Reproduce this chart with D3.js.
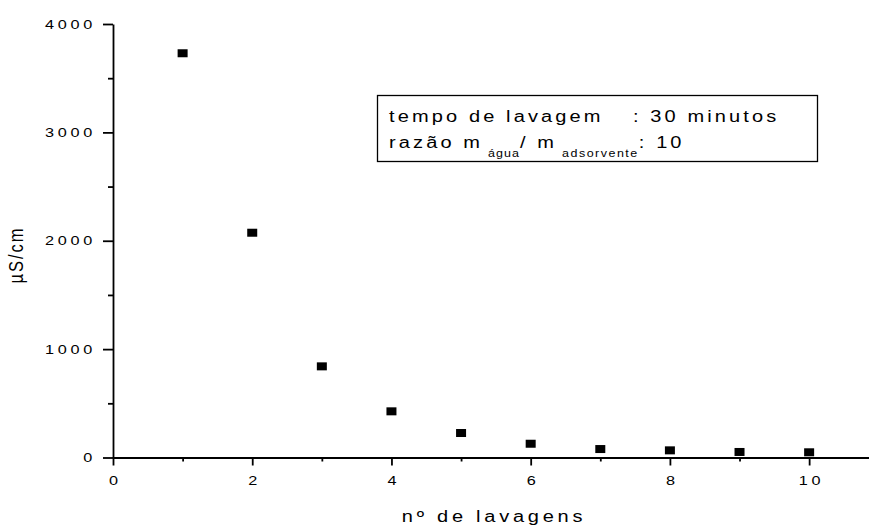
<!DOCTYPE html>
<html>
<head>
<meta charset="utf-8">
<script src="https://cdn.jsdelivr.net/npm/d3@7"></script>
<style>
	html, body { margin: 0; padding: 0; background: #fff; }
	svg { display: block; font-family: "Liberation Sans", Arial, sans-serif; }
	.axis path, .axis line { stroke: #000; stroke-width: 1.8; }
	.axis text { fill: #000; font-size: 13px; letter-spacing: 3px; font-family: "Liberation Sans", Arial, sans-serif; }
</style>
</head>
<body>
<div id="chart"></div>
<script>
// numero de lavagens e condutividade (uS/cm)
var lavagens = [1, 2, 3, 4, 5, 6, 7, 8, 9, 10];
var condutividade = [3730, 2074, 841, 426, 226, 127, 78, 66, 51, 48];
var xTicks = [0, 2, 4, 6, 8, 10];
var xMinorTicks = [1, 3, 5, 7, 9];
var yTicks = [0, 1000, 2000, 3000, 4000];
var yMinorTicks = [500, 1500, 2500, 3500];
var legendLine1 = ['tempo de lavagem', ': 30 minutos'];
var legendLine2 = ['razão m', 'água', '/ m', 'adsorvente', ': 10'];

var width = 869,
	height = 525,
	stretch = 1.25;  // o texto original aparece esticado na horizontal

var svg = d3.select('#chart')
	.append('svg')
	.attr('width', width)
	.attr('height', height);

var x = d3.scaleLinear().domain([0, 10.86]).range([113, 869]);
var y = d3.scaleLinear().domain([0, 4000]).range([457.5, 24]);

// eixo x
var xAxis = svg.append('g')
	.attr('class', 'axis')
	.attr('transform', 'translate(0,' + y(0) + ')')
	.call(d3.axisBottom(x).tickValues(xTicks).tickSize(8).tickSizeOuter(0).tickPadding(10).tickFormat(d3.format('d')));
xAxis.selectAll('text')
	.attr('x', 1.5)
	.attr('transform', 'scale(' + stretch + ',1)');

svg.append('g')
	.attr('class', 'axis')
	.attr('transform', 'translate(0,' + y(0) + ')')
	.call(d3.axisBottom(x).tickValues(xMinorTicks).tickSize(4).tickSizeOuter(0).tickFormat(''))
	.select('.domain').remove();

// eixo y
var yAxis = svg.append('g')
	.attr('class', 'axis')
	.attr('transform', 'translate(' + x(0) + ',0)')
	.call(d3.axisLeft(y).tickValues(yTicks).tickSize(10).tickSizeOuter(0).tickFormat(d3.format('d')));
yAxis.selectAll('text')
	.attr('x', -13.6)
	.attr('transform', 'scale(' + stretch + ',1)');

svg.append('g')
	.attr('class', 'axis')
	.attr('transform', 'translate(' + x(0) + ',0)')
	.call(d3.axisLeft(y).tickValues(yMinorTicks).tickSize(5).tickSizeOuter(0).tickFormat(''))
	.select('.domain').remove();

// pontos
svg.selectAll('.ponto')
	.data(lavagens)
	.enter()
	.append('rect')
	.attr('class', 'ponto')
	.attr('x', function (d) { return x(d) - 5; })
	.attr('y', function (d, i) { return y(condutividade[i]) - 4; })
	.attr('width', 10)
	.attr('height', 8)
	.attr('fill', '#000');

// titulos dos eixos
svg.append('text')
	.attr('transform', 'translate(494,522) scale(' + stretch + ',1)')
	.attr('text-anchor', 'middle')
	.attr('font-size', '16px')
	.attr('letter-spacing', '3px')
	.attr('fill', '#000')
	.text('nº de lavagens');

svg.append('text')
	.attr('transform', 'translate(23,255) rotate(-90) scale(1,' + stretch + ')')
	.attr('text-anchor', 'middle')
	.attr('font-size', '16.5px')
	.attr('letter-spacing', '2px')
	.attr('fill', '#000')
	.text('µS/cm');

// legenda
svg.append('rect')
	.attr('x', 377.5)
	.attr('y', 95.5)
	.attr('width', 440)
	.attr('height', 66)
	.attr('fill', 'none')
	.attr('stroke', '#000')
	.attr('stroke-width', 1.3);

var l1 = svg.append('text')
	.attr('transform', 'translate(389,121.7) scale(' + stretch + ',1)')
	.attr('font-size', '16px')
	.attr('letter-spacing', '2.5px')
	.attr('fill', '#000');
l1.append('tspan').attr('x', 0).text(legendLine1[0]);
l1.append('tspan').attr('x', (633 - 389) / stretch).text(legendLine1[1]);

var l2 = svg.append('text')
	.attr('transform', 'translate(389,148.3) scale(' + stretch + ',1)')
	.attr('font-size', '16px')
	.attr('letter-spacing', '2.5px')
	.attr('fill', '#000');
l2.append('tspan').text(legendLine2[0]);
l2.append('tspan').attr('dx', 4).attr('dy', 8.4).attr('font-size', '10px').attr('letter-spacing', '0.8px').text(legendLine2[1]);
l2.append('tspan').attr('dy', -8.4).text(legendLine2[2]);
l2.append('tspan').attr('dx', 4).attr('dy', 8.4).attr('font-size', '10px').attr('letter-spacing', '1.2px').text(legendLine2[3]);
l2.append('tspan').attr('dy', -8.4).text(legendLine2[4]);
</script>
</body>
</html>
